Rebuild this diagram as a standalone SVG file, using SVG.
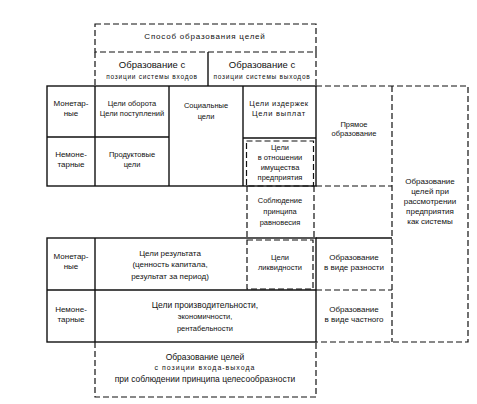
<svg xmlns="http://www.w3.org/2000/svg" width="477" height="404" viewBox="0 0 477 404">
<style>
.s{fill:none;stroke:#111;stroke-width:1.4}
.d{fill:none;stroke:#111;stroke-width:1.2;stroke-dasharray:6 3}
text{font-family:"Liberation Sans","DejaVu Sans",sans-serif;fill:#111;text-anchor:middle;font-size:7.5px}
.b{font-size:9.5px}
.m{font-size:8px}
.w{font-size:7px;letter-spacing:1px}
.p{font-size:6.5px;letter-spacing:0.75px}
.l{font-size:8.5px}
</style>
<rect width="477" height="404" fill="#fff"/>
<g id="connectors">
<rect class="d" x="95" y="24" width="221" height="28"/>
<path class="d" d="M95 52V86M316 52V86"/>
<path class="s" d="M208 52V86"/>
<rect class="s" x="47" y="86" width="269" height="100"/>
<path class="s" d="M95 86V186M169 86V186M243 86V186M47 137H169M243 138H316"/>
<rect class="d" x="246.5" y="141" width="67" height="45"/>
<path class="d" d="M316 86H468V342H316M392 86V342M316 186H392M316 290H392"/>
<path class="s" d="M316 238H392"/>
<path class="d" d="M247 186V238M314 186V238"/>
<rect class="s" x="47" y="238" width="269" height="104"/>
<path class="s" d="M95 238V342M47 290H316"/>
<rect class="d" x="247" y="240" width="66" height="49"/>
<path class="d" d="M95 342V397H316V342"/>
</g>
<g id="n-sposob"><text class="m" x="205" y="39" style="letter-spacing:0.8px">Способ образования целей</text></g>
<g id="n-vhod"><text class="b" x="152" y="68">Образование с</text><text class="p" x="152" y="79">позиции системы входов</text></g>
<g id="n-vyhod"><text class="b" x="262" y="68">Образование с</text><text class="p" x="262" y="79">позиции системы выходов</text></g>
<g id="n-monet1"><text class="m" x="71" y="106">Монетар-</text><text class="m" x="71" y="116">ные</text></g>
<g id="n-oborot"><text x="132" y="106">Цели оборота</text><text x="132" y="116">Цели поступлений</text></g>
<g id="n-social"><text x="206" y="108">Социальные</text><text x="206" y="119">цели</text></g>
<g id="n-izderzh"><text x="279" y="106" style="letter-spacing:0.5px">Цели издержек</text><text x="279" y="116" style="letter-spacing:0.8px">Цели выплат</text></g>
<g id="n-nemonet1"><text class="m" x="71" y="157">Немоне-</text><text class="m" x="71" y="167">тарные</text></g>
<g id="n-product"><text x="132" y="157">Продуктовые</text><text x="132" y="167">цели</text></g>
<g id="n-imush"><text x="280" y="150">Цели</text><text x="280" y="160">в отношении</text><text x="280" y="170">имущества</text><text x="280" y="180">предприятия</text></g>
<g id="n-pryamoe"><text x="354" y="127">Прямое</text><text x="354" y="136">образование</text></g>
<g id="n-ravnov"><text x="280" y="203">Соблюдение</text><text x="280" y="214">принципа</text><text x="280" y="225">равновесия</text></g>
<g id="n-sistema"><text class="m" x="430" y="184">Образование</text><text class="m" x="430" y="194">целей при</text><text class="m" x="430" y="204">рассмотрении</text><text class="m" x="430" y="214">предприятия</text><text class="m" x="430" y="224">как системы</text></g>
<g id="n-monet2"><text class="m" x="71" y="259">Монетар-</text><text class="m" x="71" y="269">ные</text></g>
<g id="n-rezult"><text class="m" x="170" y="256">Цели результата</text><text class="m" x="170" y="267">(ценность капитала,</text><text class="m" x="170" y="279">результат за период)</text></g>
<g id="n-likvid"><text x="280" y="260">Цели</text><text x="280" y="270">ликвидности</text></g>
<g id="n-raznost"><text class="m" x="354" y="260">Образование</text><text class="m" x="354" y="270">в виде разности</text></g>
<g id="n-nemonet2"><text class="m" x="71" y="312">Немоне-</text><text class="m" x="71" y="322">тарные</text></g>
<g id="n-proizv"><text class="l" x="205" y="308">Цели производительности,</text><text x="205" y="319">экономичности,</text><text x="205" y="331">рентабельности</text></g>
<g id="n-chastnoe"><text class="m" x="354" y="312">Образование</text><text class="m" x="354" y="322">в виде частного</text></g>
<g id="n-vhodvyhod"><text class="l" x="205" y="360">Образование целей</text><text class="w" x="205" y="370">с позиции входа-выхода</text><text class="l" x="205" y="382">при соблюдении принципа целесообразности</text></g>
</svg>
